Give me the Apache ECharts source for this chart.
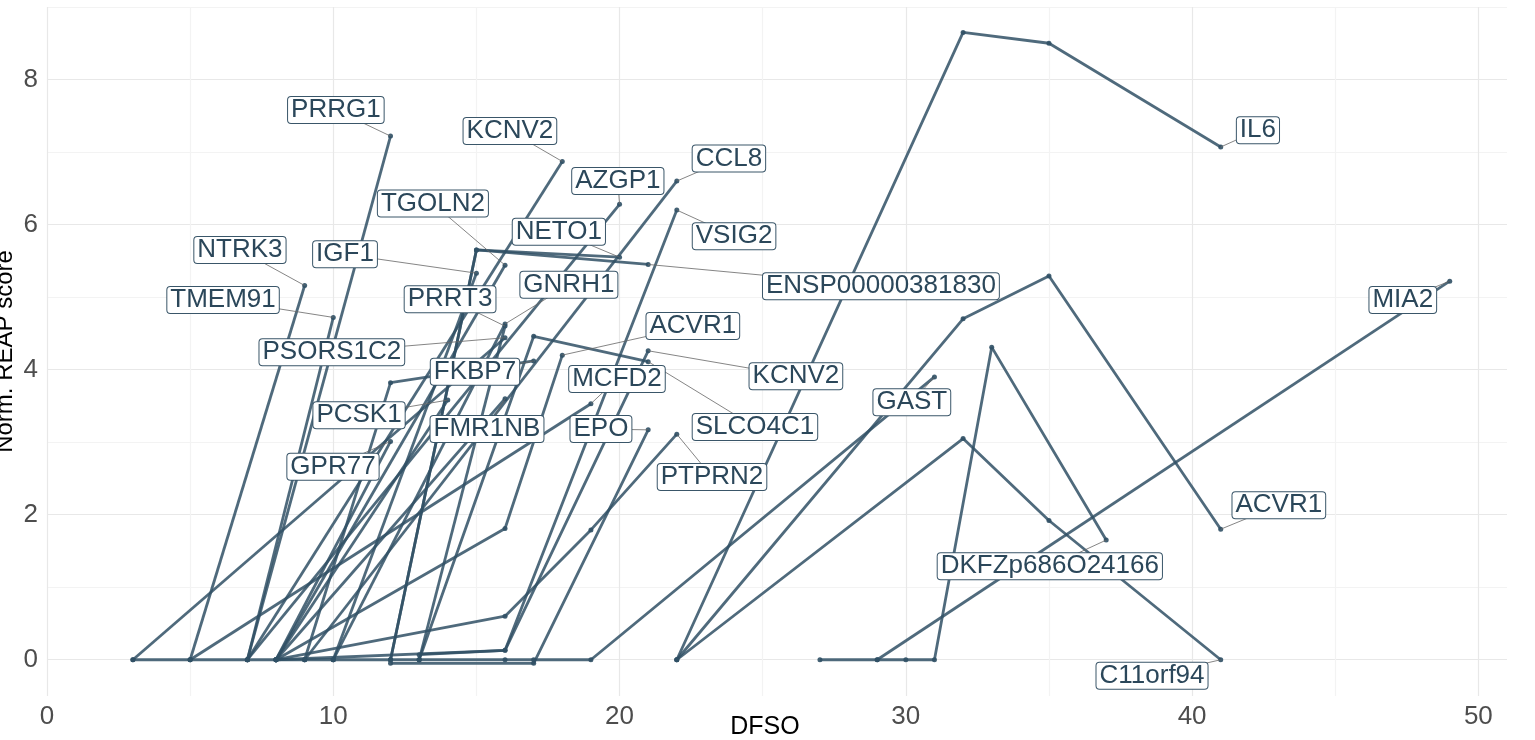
<!DOCTYPE html>
<html><head><meta charset="utf-8">
<script src="https://cdn.jsdelivr.net/npm/echarts@6/dist/echarts.min.js"></script>
<style>html,body{margin:0;padding:0;background:#fff}#chart{width:1535px;height:740px}</style>
</head><body><div id="chart"></div>
<script>
// ---- data ----
const geneNames = ['PRRG1','KCNV2','TGOLN2','IGF1','NTRK3','TMEM91','PRRT3','PSORS1C2','AZGP1','CCL8',
  'VSIG2','NETO1','ENSP00000381830','GNRH1','ACVR1','KCNV2','SLCO4C1','FKBP7','MCFD2','PCSK1',
  'FMR1NB','GPR77','EPO','PTPRN2','GAST','IL6','ACVR1','MIA2','DKFZp686O24166','C11orf94'];
const geneDFSO = [
  [7,12],[7,18],[8,16],[10,15],[5,9],[7,10],[13,16],[3,16],[7,20],[9,22],
  [8,16,22],[12,15,20],[12,15,21],[10,16],[8,16,18],[13,16,21],[13,17,21],[9,12,17],[5,19],[8,14],
  [8,16],[8,12],[12,17,21],[8,16,19,22],[3,5,7,8,9,10,12,13,16,17,19,31],[22,32,35,41],[22,32,35,41],[29,49],[27,29,30,31,33,37],[22,32,35,41]
];
const geneScore = [
  [0,7.22],[0,6.87],[0,5.44],[0,5.33],[0,5.16],[0,4.72],[0,4.60],[0,4.44],[0,6.28],[0,6.60],
  [0,0.13,6.20],[0,5.65,5.55],[0,5.65,5.45],[0,4.63],[0,1.81,4.20],[0.07,0.13,4.26],[0,4.46,4.11],[0,3.82,4.12],[0,3.53],[0,3.58],
  [0,3.60],[0,3.01],[-0.05,-0.05,3.17],[0,0.60,1.79,3.11],[0,0,0,0,0,0,0,0,0,0,0,3.90],[0,8.65,8.50,7.07],[0,4.70,5.29,1.80],[0,5.22],[0,0,0,0,4.31,1.65],[0,3.05,1.92,0]
];
// where each repelled label sits (data units)
const labelAnchorDFSO = [10.09,16.17,13.48,10.41,6.74,6.15,14.08,9.95,19.94,23.82,
  24.0,17.88,29.13,18.23,22.56,26.16,24.73,14.95,19.91,10.90,
  15.37,9.99,19.35,23.23,30.21,42.30,43.03,47.36,35.03,38.6];
const labelAnchorScore = [7.58,7.29,6.29,5.59,5.65,4.96,4.97,4.24,6.60,6.91,
  5.84,5.90,5.15,5.17,4.60,3.91,3.21,3.97,3.87,3.37,
  3.18,2.66,3.18,2.52,3.55,7.30,2.13,4.96,1.29,-0.22];
const xTicks = [0,10,20,30,40,50];
const yTicks = [0,2,4,6,8];

// ---- styles ----
const LINE = '#305065';
const MAJ = '#e8e8e8', MIN = '#f3f3f3', NONE = 'rgba(0,0,0,0)';
const FONT = '"Liberation Sans", Arial, sans-serif';

const lineSeries = geneNames.map((n, i) => ({
  type: 'line', name: n + '_' + i,
  data: geneDFSO[i].map((x, j) => [x, geneScore[i][j]]),
  symbol: 'circle', symbolSize: 5, showSymbol: true,
  lineStyle: { width: 2.8, color: LINE, opacity: 0.85 },
  itemStyle: { color: LINE, opacity: 0.9 },
  emphasis: { disabled: true }, silent: true, z: 2, clip: false
}));

const labelData = geneNames.map((n, i) => {
  const xs = geneDFSO[i], ys = geneScore[i];
  return [xs[xs.length - 1], ys[ys.length - 1], labelAnchorDFSO[i], labelAnchorScore[i], i];
});

const chart = echarts.init(document.getElementById('chart'), null, { renderer: 'canvas' });
chart.setOption({
  animation: false,
  backgroundColor: '#fff',
  grid: { left: 47, right: 28, top: 7, bottom: 44, containLabel: false, outerBoundsMode: 'none' },
  xAxis: {
    type: 'value', min: 0, max: 51, interval: 2.5,
    name: 'DFSO', nameLocation: 'middle', nameGap: 19, nameMoveOverlap: false,
    nameTextStyle: { fontSize: 25, color: '#000', fontFamily: FONT, padding: [0, 24, 0, 0] },
    axisLine: { show: false }, axisTick: { show: false },
    axisLabel: { fontSize: 26, color: '#4d4d4d', fontFamily: FONT, margin: 8,
      formatter: v => xTicks.includes(v) ? String(v) : '' },
    splitLine: { show: true, showMinLine: true, showMaxLine: true,
      lineStyle: { color: [MAJ, NONE, MIN, NONE], width: 1.2 } }
  },
  yAxis: {
    type: 'value', min: -0.5, max: 9, interval: 0.5,
    name: 'Norm. REAP score', nameLocation: 'middle', nameGap: 30, nameRotate: 90, nameMoveOverlap: false,
    nameTextStyle: { fontSize: 24, color: '#000', fontFamily: FONT },
    axisLine: { show: false }, axisTick: { show: false },
    axisLabel: { fontSize: 26, color: '#4d4d4d', fontFamily: FONT, margin: 9,
      formatter: v => yTicks.includes(v) ? String(v) : '' },
    splitLine: { show: true, showMinLine: true, showMaxLine: true,
      lineStyle: { color: [NONE, MAJ, NONE, MIN], width: 1.2 } }
  },
  series: lineSeries.concat([
    {
      type: 'custom', name: 'leaders', coordinateSystem: 'cartesian2d', z: 5, silent: true, clip: false,
      encode: { x: [0, 2], y: [1, 3] },
      data: labelData,
      renderItem: (params, api) => {
        const p = api.coord([api.value(0), api.value(1)]);
        const l = api.coord([api.value(2), api.value(3)]);
        return { type: 'line', shape: { x1: p[0], y1: p[1], x2: l[0], y2: l[1] },
          style: { stroke: '#666', lineWidth: 0.8 } };
      }
    },
    {
      type: 'custom', name: 'labels', coordinateSystem: 'cartesian2d', z: 6, silent: true, clip: false,
      encode: { x: 2, y: 3 },
      data: labelData,
      renderItem: (params, api) => {
        const l = api.coord([api.value(2), api.value(3)]);
        const idx = api.value(4);
        return { type: 'text', x: l[0], y: l[1],
          style: { text: geneNames[idx], fill: '#2b475a', fontSize: 26, fontFamily: FONT,
            align: 'center', verticalAlign: 'middle', backgroundColor: '#fff',
            borderColor: '#3a5669', borderWidth: 1, borderRadius: 3, padding: [0, 3, 0, 3] } };
      }
    }
  ])
});
</script></body></html>
